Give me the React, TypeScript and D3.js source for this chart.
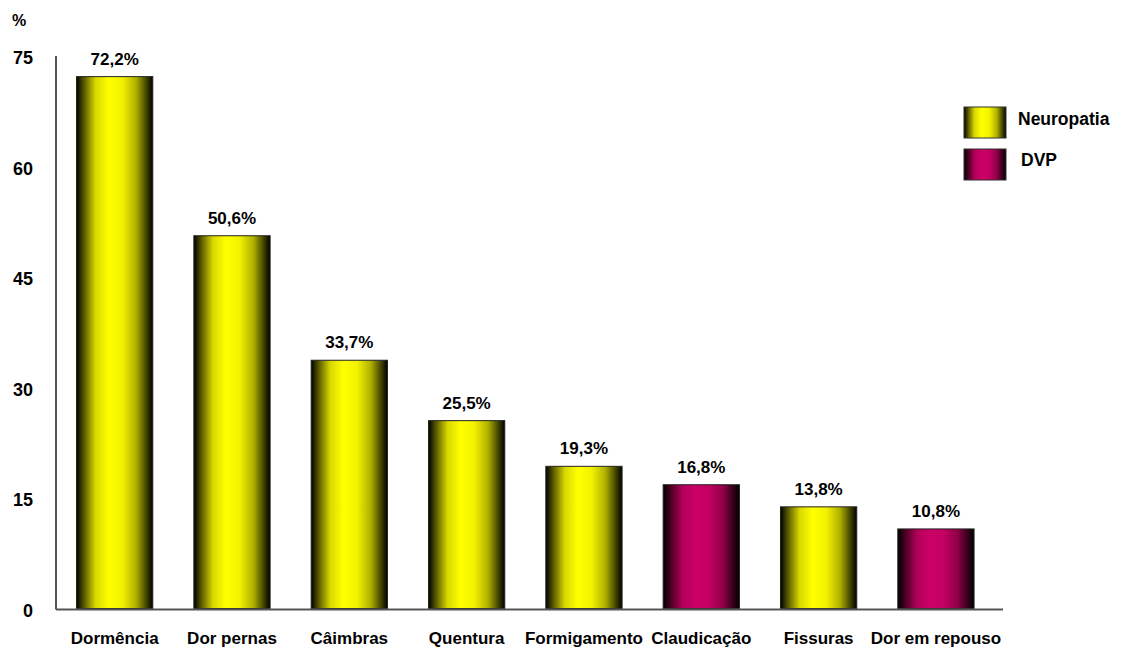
import React from "react";
import * as d3 from "d3";

const categories = ["Dormência", "Dor pernas", "Câimbras", "Quentura", "Formigamento", "Claudicação", "Fissuras", "Dor em repouso"];
const values = [72.2, 50.6, 33.7, 25.5, 19.3, 16.8, 13.8, 10.8];
const groups = ["Neuropatia", "Neuropatia", "Neuropatia", "Neuropatia", "Neuropatia", "DVP", "Neuropatia", "DVP"];
const yTicks = [0, 15, 30, 45, 60, 75];
const legendItems = ["Neuropatia", "DVP"];

const W = 1137, H = 648;
const left = 56, right = 994.6, top = 56, bottom = 608.5;
const font = "'Liberation Sans', Arial, sans-serif";

export default function App() {
  const x = d3.scaleBand<string>().domain(categories).range([left, right]).paddingInner(0.35).paddingOuter(0.175);
  const y = d3.scaleLinear().domain([0, 75]).range([bottom, top]);
  const gradId = (g: string) => (g === "DVP" ? "gDVP" : "gNeu");
  return (
    <svg width={W} height={H} style={{ position: "absolute", left: 0, top: 0, background: "#fff" }} fontFamily={font}>
      <defs>
        <linearGradient id="gNeu" x1="0" x2="1" y1="0" y2="0">
          <stop offset="0" stopColor="#000000" />
          <stop offset="0.1" stopColor="#5a5a00" />
          <stop offset="0.25" stopColor="#d8d800" />
          <stop offset="0.42" stopColor="#ffff00" />
          <stop offset="0.6" stopColor="#f2f200" />
          <stop offset="0.78" stopColor="#b0b000" />
          <stop offset="0.92" stopColor="#404000" />
          <stop offset="1" stopColor="#000000" />
        </linearGradient>
        <linearGradient id="gDVP" x1="0" x2="1" y1="0" y2="0">
          <stop offset="0" stopColor="#000000" />
          <stop offset="0.1" stopColor="#4a0022" />
          <stop offset="0.25" stopColor="#b0005a" />
          <stop offset="0.42" stopColor="#cc0066" />
          <stop offset="0.6" stopColor="#c40062" />
          <stop offset="0.78" stopColor="#900048" />
          <stop offset="0.92" stopColor="#35001a" />
          <stop offset="1" stopColor="#000000" />
        </linearGradient>
      </defs>
      <text x={12} y={26} fontSize={16} fontWeight="bold" fill="#000">%</text>
      {yTicks.map((t) => (
        <text key={t} x={33} y={y(t) + 8} fontSize={18} fontWeight="bold" textAnchor="end" fill="#000">{t}</text>
      ))}
      {categories.map((c, i) => {
        const bx = x(c)!;
        const bw = x.bandwidth();
        return (
          <g key={c}>
            <rect x={bx} y={y(values[i])} width={bw} height={bottom - y(values[i])} fill={`url(#${gradId(groups[i])})`} stroke="#222" strokeWidth={1} />
            <text x={bx + bw / 2} y={y(values[i]) - 12} fontSize={17} fontWeight="bold" textAnchor="middle" fill="#000">
              {values[i].toFixed(1).replace(".", ",")}%
            </text>
            <text x={bx + bw / 2} y={644} fontSize={17} fontWeight="bold" textAnchor="middle" fill="#000">{c}</text>
          </g>
        );
      })}
      <line x1={left} x2={left} y1={top} y2={bottom + 1} stroke="#555" strokeWidth={2} />
      <line x1={left} x2={1003} y1={bottom + 1} y2={bottom + 1} stroke="#555" strokeWidth={2} />
      {legendItems.map((g, i) => (
        <g key={g}>
          <rect x={964} y={107 + i * 42} width={42} height={31} fill={`url(#${gradId(g)})`} stroke="#333" strokeWidth={1} />
          <text x={1018 + (i === 1 ? 3 : 0)} y={125 + i * 41} fontSize={17.5} fontWeight="bold" fill="#000">{g}</text>
        </g>
      ))}
    </svg>
  );
}
